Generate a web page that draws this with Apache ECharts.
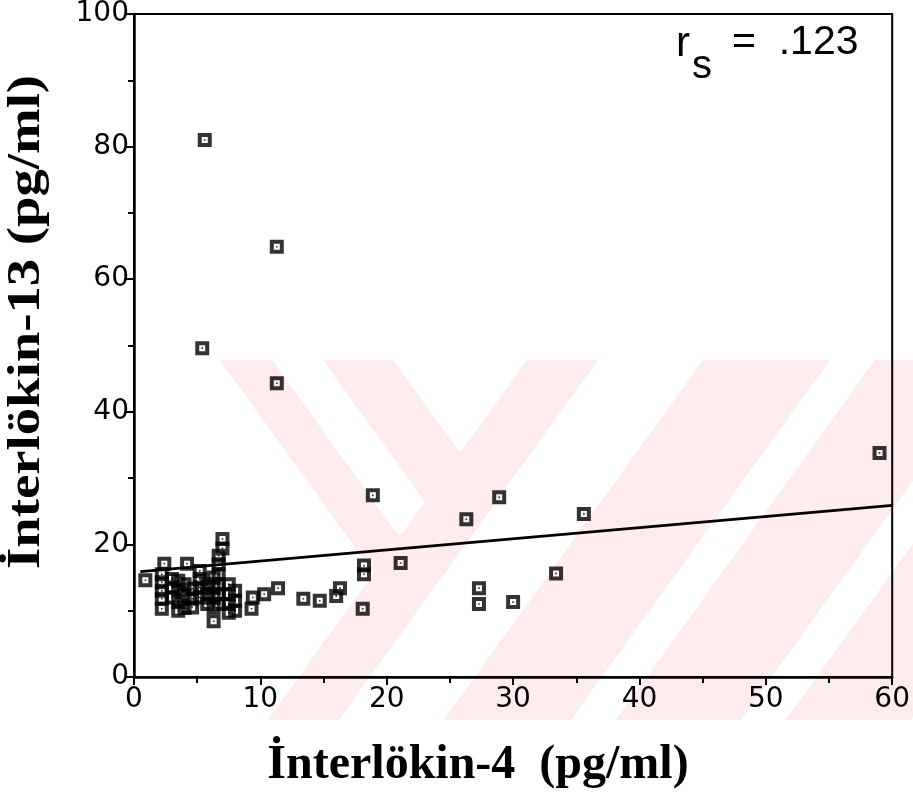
<!DOCTYPE html>
<html>
<head>
<meta charset="utf-8">
<script src="https://cdn.jsdelivr.net/npm/echarts@6/dist/echarts.min.js"></script>
<style>html,body{margin:0;padding:0;background:#fff}#c{width:913px;height:798px}</style>
</head>
<body>
<div id="c"></div>
<script>
// IL-4 (x) values and IL-13 (y) values
const il4 = [
  5.6, 11.3, 5.4, 11.3, 59.0, 18.9, 28.9, 26.3, 35.6, 21.1,
  18.2, 18.2, 33.4, 27.3, 27.3, 30.0, 18.1, 16.3, 16.0, 14.7,
  13.4, 11.4, 10.3, 9.4, 9.3,
  0.9,
  2.2, 2.2, 2.2, 2.2, 2.2, 2.4,
  3.0, 3.0, 3.0,
  3.5, 3.5, 3.5, 3.5,
  4.0, 4.0, 4.0, 4.2,
  4.6, 4.6, 4.6,
  5.2, 5.2, 5.2, 5.2,
  5.8, 5.8, 5.8,
  6.3, 6.3, 6.3, 6.3, 6.3,
  6.7, 6.7, 6.7, 6.7, 6.7, 6.7,
  7.0, 7.0,
  7.5, 7.5, 7.5, 7.5,
  8.0, 8.0, 8.0
];
const il13 = [
  81.0, 64.9, 49.6, 44.3, 33.8, 27.4, 27.1, 23.8, 24.6, 17.2,
  16.8, 15.5, 15.6, 13.4, 11.0, 11.3, 10.3, 13.4, 12.2, 11.5,
  11.8, 13.4, 12.5, 12.0, 10.3,
  14.6,
  10.3, 11.8, 13.0, 14.3, 15.5, 17.1,
  12.0, 13.5, 14.8,
  10.0, 11.3, 13.2, 14.5,
  10.4, 12.3, 14.0, 17.1,
  10.5, 11.8, 13.3,
  12.0, 13.5, 14.8, 16.0,
  11.0, 12.5, 14.0,
  8.4, 10.5, 12.0, 13.5, 15.0,
  11.0, 12.5, 14.0, 15.5, 17.0, 18.3,
  19.4, 20.8,
  9.7, 11.0, 12.5, 14.0,
  10.0, 11.5, 13.0
];
// regression line end points
const fitX = [0.5, 60];
const fitY = [15.9, 25.9];
const xTicks = [0, 10, 20, 30, 40, 50, 60];
const yTicks = [0, 20, 40, 60, 80, 100];

const points = il4.map((x, i) => [x, il13[i]]);
const fitLine = fitX.map((x, i) => [x, fitY[i]]);

// background watermark (decoration only)
const pink = '#fdebee';
const k = 0.72;
function slash(a, b) {
  const d = 360;
  return [[a, 360], [b, 360], [b - k * d, 720], [a - k * d, 720]];
}
function meet(a, b) {
  const d = (b - a) / (2 * k);
  return [a + k * d, 360 + d];
}
const wm = [
  slash(527, 598), slash(703, 830), slash(875, 1000), slash(1045, 1170),
  [[220, 360], [272, 360], meet(272, 598), meet(220, 598)],
  [[323, 360], [393, 360], meet(393, 598), meet(323, 598)]
];

const markerPath = 'path://M0,0H14V14H0Z M4,4V10H10V4Z M6.2,6.2H7.8V7.8H6.2Z';

const chart = echarts.init(document.getElementById('c'), null, {renderer: 'canvas'});
chart.setOption({
  animation: false,
  backgroundColor: '#fff',
  grid: {left: 134, right: 18, top: 14, bottom: 121, show: true, borderColor: '#000', borderWidth: 2, backgroundColor: 'transparent'},
  xAxis: {
    type: 'value', min: xTicks[0], max: xTicks[xTicks.length - 1], interval: 10,
    axisLine: {show: true, lineStyle: {color: '#000', width: 2.5}},
    axisTick: {show: true, length: 8, lineStyle: {color: '#000', width: 2}},
    minorTick: {show: true, splitNumber: 2, length: 6, lineStyle: {color: '#000', width: 2}},
    splitLine: {show: false},
    axisLabel: {color: '#000', fontFamily: 'DejaVu Sans', fontSize: 28, margin: 9}
  },
  yAxis: {
    type: 'value', min: yTicks[0], max: yTicks[yTicks.length - 1], interval: 20,
    axisLine: {show: true, lineStyle: {color: '#000', width: 2.5}},
    axisTick: {show: true, length: 8, lineStyle: {color: '#000', width: 2}},
    minorTick: {show: true, splitNumber: 2, length: 6, lineStyle: {color: '#000', width: 2}},
    splitLine: {show: false},
    axisLabel: {color: '#000', fontFamily: 'DejaVu Sans', fontSize: 28, margin: 5}
  },
  graphic: [
    ...wm.map(p => ({type: 'polygon', z: -100, silent: true, shape: {points: p}, style: {fill: pink}})),
    {type: 'text', z: 100, style: {text: 'r', x: 676, y: 44, font: '42px "Liberation Sans"', fill: '#000', textVerticalAlign: 'middle'}},
    {type: 'text', z: 100, style: {text: 's', x: 692, y: 67, font: '40px "Liberation Sans"', fill: '#000', textVerticalAlign: 'middle'}},
    {type: 'text', z: 100, style: {text: '=  .123', x: 732, y: 43, font: '41px "Liberation Sans"', fill: '#000', textVerticalAlign: 'middle'}},
    {type: 'text', z: 100, x: 478, y: 766, style: {text: 'İnterlökin-4  (pg/ml)', font: 'bold 48px "Liberation Serif"', fill: '#000', textAlign: 'center', textVerticalAlign: 'middle'}},
    {type: 'text', z: 100, x: 27, y: 322, rotation: Math.PI / 2, scaleX: 1.19, style: {text: 'İnterlökin-13 (pg/ml)', font: 'bold 46px "Liberation Serif"', fill: '#000', textAlign: 'center', textVerticalAlign: 'middle'}}
  ],
  series: [
    {type: 'line', data: fitLine, symbol: 'none', lineStyle: {color: '#000', width: 2.8}, z: 3},
    {type: 'scatter', data: points, symbol: markerPath, symbolSize: 14, itemStyle: {color: '#000'}, z: 4}
  ]
});
</script>
</body>
</html>
